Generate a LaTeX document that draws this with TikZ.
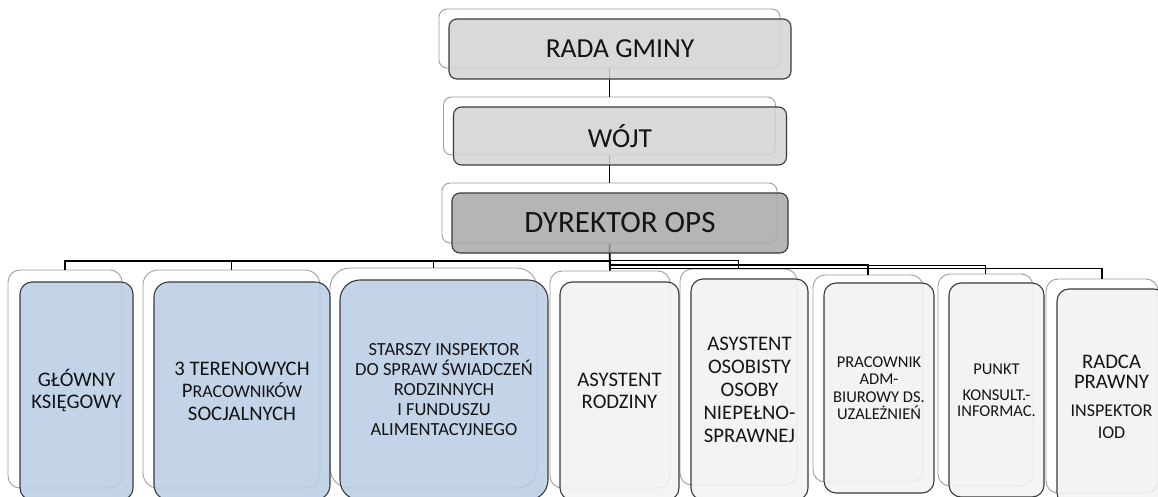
\documentclass[tikz,border=0pt]{standalone}
\usepackage{fontspec}
\setmainfont{Carlito}
\definecolor{backline}{HTML}{9E9E9E}
\definecolor{frontline}{HTML}{3A3A3A}
\definecolor{bluefill}{HTML}{B9CCE4}
\definecolor{grayfill}{HTML}{F2F2F2}
\definecolor{topfill}{HTML}{D3D3D3}
\definecolor{dirfill}{HTML}{A9A9A9}
\definecolor{txt}{HTML}{141414}
\tikzset{
  backbox/.style={rectangle, draw=backline, fill=white, line width=0.9pt, inner sep=0pt},
  frontbox/.style={rectangle, draw=frontline, line width=1.1pt, fill opacity=0.85, text opacity=1, inner sep=0pt, align=center, text=txt},
  conn/.style={draw=black, line width=1.9pt},
}
\begin{document}
\begin{tikzpicture}[x=1pt,y=-1pt]
\useasboundingbox (0,0) rectangle (1158,497);
\clip (0,0) rectangle (1158,497);

% ---------- back boxes ----------
\node[backbox, rounded corners=8pt, minimum width=341pt, minimum height=59pt] (radaB) at (609.5,38.5) {};
\node[backbox, rounded corners=8pt, minimum width=332pt, minimum height=58pt] (wojtB) at (609.5,126) {};
\node[backbox, rounded corners=8pt, minimum width=335pt, minimum height=60pt] (dyrB) at (609.5,213) {};

\node[backbox, rounded corners=12pt, minimum width=114pt, minimum height=218pt] (glB) at (65,379) {};
\node[backbox, rounded corners=15pt, minimum width=177pt, minimum height=218pt] (terB) at (231.5,379) {};
\node[backbox, rounded corners=20pt, minimum width=207pt, minimum height=220pt] (stB) at (433.5,378) {};
\node[backbox, rounded corners=12pt, minimum width=120pt, minimum height=217pt] (arB) at (610,379.5) {};
\node[backbox, rounded corners=12pt, minimum width=117pt, minimum height=216pt] (aoB) at (738.5,377) {};
\node[backbox, rounded corners=12pt, minimum width=110pt, minimum height=207pt] (prB) at (868,378.5) {};
\node[backbox, rounded corners=12pt, minimum width=95pt, minimum height=212pt] (puB) at (985.5,380) {};
\node[backbox, rounded corners=12pt, minimum width=112pt, minimum height=214pt] (raB) at (1102,386) {};

% ---------- bus levels ----------
\coordinate (busA) at (0,261);
\coordinate (busB) at (0,260.5);
\coordinate (busC) at (0,264.5);
\coordinate (busD) at (0,265.5);
\coordinate (busE) at (0,268.5);

% ---------- connectors ----------
\draw[conn] (radaB.south) -- (wojtB.north);
\draw[conn] (wojtB.south) -- (dyrB.north);
\draw[conn] (dyrB.south) -- (dyrB.south |- busA) -| (glB.north);
\draw[conn] (dyrB.south) -- (dyrB.south |- busA) -| (terB.north);
\draw[conn] (dyrB.south) -- (dyrB.south |- busA) -| (stB.north);
\draw[conn] (dyrB.south) -- (arB.north);
\draw[conn] (dyrB.south) -- (dyrB.south |- busB) -| (aoB.north);
\draw[conn] (dyrB.south) -- (dyrB.south |- busC) -| (prB.north);
\draw[conn] (dyrB.south) -- (dyrB.south |- busD) -| (puB.north);
\draw[conn] (dyrB.south) -- (dyrB.south |- busE) -| (raB.north);

% ---------- front boxes ----------
\node[frontbox, fill=topfill, rounded corners=8pt, minimum width=342pt, minimum height=60pt,
      font=\fontsize{27.5}{30}\selectfont] (radaF) at (620,49) {RADA GMINY};
\node[frontbox, fill=topfill, rounded corners=8pt, minimum width=333pt, minimum height=58pt,
      font=\fontsize{27.5}{30}\selectfont] (wojtF) at (620,136) {WÓJT};
\node[frontbox, fill=dirfill, rounded corners=8pt, minimum width=336pt, minimum height=60pt,
      font=\fontsize{31}{34}\selectfont] (dyrF) at (620,223) {DYREKTOR OPS};

\node[frontbox, fill=bluefill, rounded corners=12pt, minimum width=113pt, minimum height=218pt,
      font=\fontsize{20.7}{22}\selectfont] (glF) at (76.5,391) {GŁÓWNY\\KSIĘGOWY};
\node[frontbox, fill=bluefill, rounded corners=15pt, minimum width=176pt, minimum height=218pt,
      font=\fontsize{20.7}{22.5}\selectfont] (terF) at (242,391)
      {3 TERENOWYCH\\P{\fontsize{18}{22.5}\selectfont RACOWNIKÓW}\\SOCJALNYCH};
\node[frontbox, fill=bluefill, rounded corners=20pt, minimum width=208pt, minimum height=220pt,
      font=\fontsize{18.5}{20}\selectfont] (stF) at (444,390)
      {STARSZY INSPEKTOR\\DO SPRAW ŚWIADCZEŃ\\RODZINNYCH\\I FUNDUSZU\\ALIMENTACYJNEGO};
\node[frontbox, fill=grayfill, rounded corners=12pt, minimum width=119pt, minimum height=218pt,
      font=\fontsize{20.7}{22}\selectfont] (arF) at (619.5,391) {ASYSTENT\\RODZINY};
\node[frontbox, fill=grayfill, rounded corners=12pt, minimum width=117pt, minimum height=221pt,
      font=\fontsize{20.7}{23}\selectfont] (aoF) at (749.5,389.5)
      {ASYSTENT\\OSOBISTY\\OSOBY\\NIEPEŁNO-\\SPRAWNEJ};
\node[frontbox, fill=grayfill, rounded corners=12pt, minimum width=110pt, minimum height=210pt,
      font=\fontsize{16.5}{17.5}\selectfont] (prF) at (879,388)
      {PRACOWNIK\\ADM-\\BIUROWY DS.\\UZALEŻNIEŃ};
\node[frontbox, fill=grayfill, rounded corners=12pt, minimum width=95pt, minimum height=214pt,
      font=\fontsize{16.5}{16}\selectfont] (puF) at (996.5,390)
      {PUNKT\\[10pt]KONSULT.-\\[0pt]INFORMAC.};
\node[frontbox, fill=grayfill, rounded corners=12pt, minimum width=109pt, minimum height=216pt,
      font=\fontsize{20.7}{19.5}\selectfont] (raF) at (1111.5,397)
      {RADCA\\PRAWNY\\[9pt]{\fontsize{18}{18}\selectfont INSPEKTOR}\\[2pt]{\fontsize{18}{18}\selectfont IOD}};
\end{tikzpicture}
\end{document}
